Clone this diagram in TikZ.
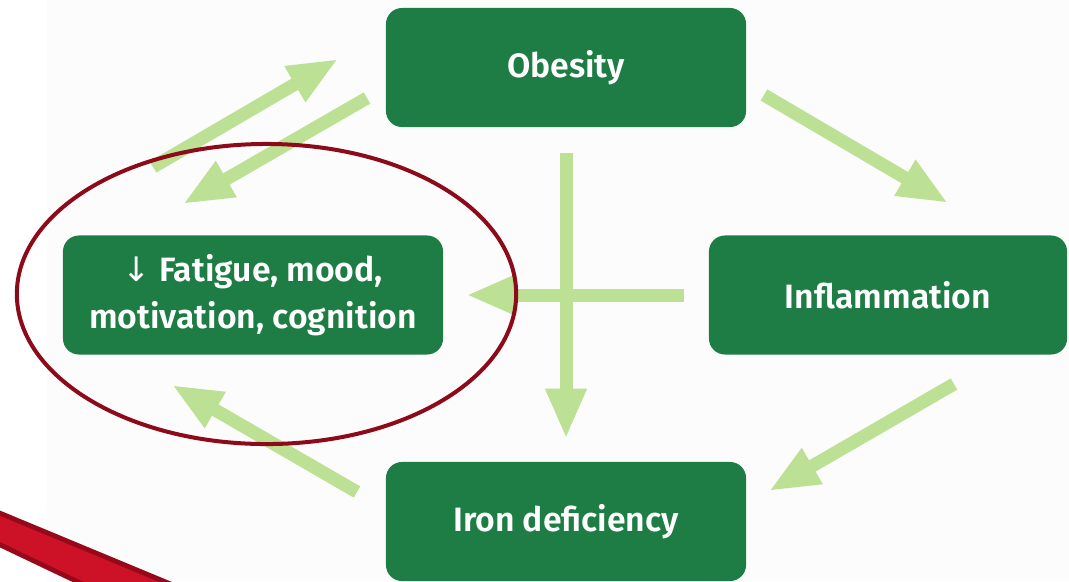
\documentclass[tikz,border=0pt]{standalone}
\usepackage{fontspec}
\setmainfont{Fira Sans}[BoldFont={Fira Sans SemiBold}]
\newfontfamily\arrowfont{DejaVu Sans}
\usepackage{xcolor}
\usetikzlibrary{arrows.meta,positioning}
\definecolor{boxgreen}  {RGB}{30, 125, 68}
\definecolor{flowgreen} {RGB}{188, 224, 148}
\definecolor{ringred}   {RGB}{140, 10,  25}
\definecolor{bandred}   {RGB}{205, 17,  38}
\definecolor{banddark}  {RGB}{150, 9,   26}

\begin{document}
\begin{tikzpicture}[x=0.025cm,y=-0.025cm,
    box/.style={fill=boxgreen,rounded corners=0.4cm,text=white,inner sep=0pt,
      font=\fontsize{24}{33.3}\selectfont\bfseries,align=center,
      minimum width=9cm,minimum height=2.975cm},
    flow/.style={draw=flowgreen,line width=0.325cm,
      -{Triangle[length=1.25cm,width=0.95cm]}}]
  \useasboundingbox (0,0) rectangle (1069,581);
  \fill[black!1] (47,0) rectangle (1069,581);
  % red band, bottom left
  \filldraw[fill=bandred,draw=banddark,line width=0.12cm]
    (-10,509) -- (185,590) -- (95,590) -- (-10,540) -- cycle;

  % boxes
  \node[box] (obe) at (566,67.5) {Obesity};
  \node[box,minimum width=8.95cm] (infl) at (888,295) {Inflammation};
  \node[box,minimum width=9.5cm] (fat) at (253,295)
    {{\arrowfont\mdseries ↓} Fatigue, mood,\\motivation, cognition};
  \node[box] (iron) at (566,521.5) {Iron deficiency};

  % ends of the slanted arrows
  \coordinate (fo1) at (153,167);  \coordinate (fo2) at (338,59);
  \coordinate (of1) at (367,98);   \coordinate (of2) at (183,204);
  \coordinate (oi1) at (764,95);   \coordinate (oi2) at (948,203);
  \coordinate (ii1) at (954,384);  \coordinate (ii2) at (769,491);
  \coordinate (if1) at (357,492);  \coordinate (if2) at (172,385);

  \draw[flow] (fo1) -- (fo2);
  \draw[flow] (of1) -- (of2);
  \draw[flow] (oi1) -- (oi2);
  \draw[flow] (ii1) -- (ii2);
  \draw[flow] (if1) -- (if2);
  \draw[flow,shorten <=0.65cm,shorten >=0.575cm] (obe) -- (iron);
  \draw[flow,shorten <=0.625cm,shorten >=0.575cm] (infl) -- (fat);

  % ring round the fatigue box
  \draw[ringred,line width=0.1cm] (266.5,294) ellipse [x radius=6.24cm,y radius=3.75cm];
\end{tikzpicture}
\end{document}
